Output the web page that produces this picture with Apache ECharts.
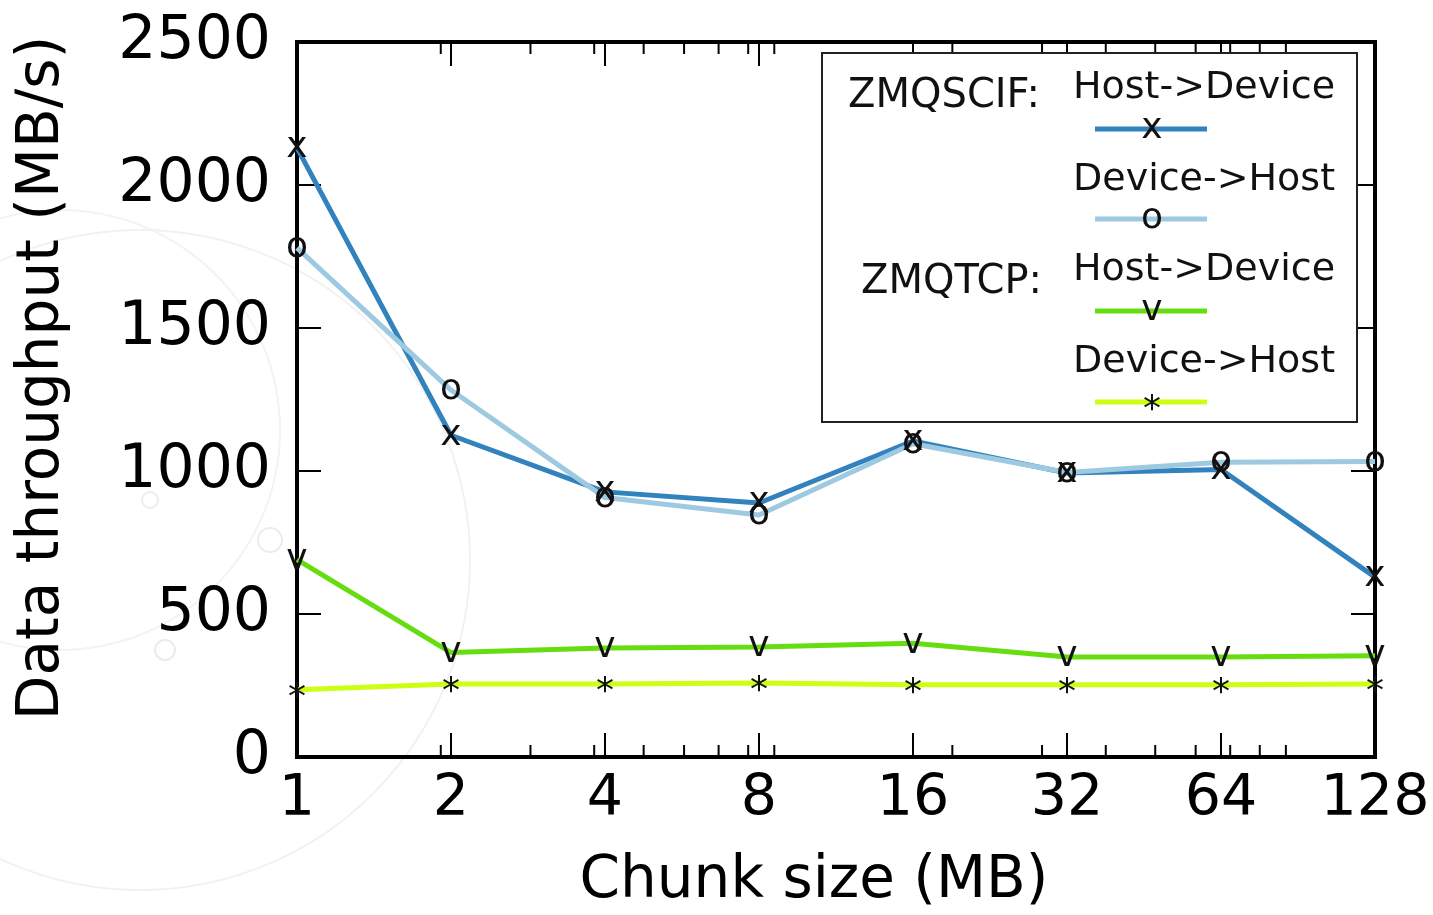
<!DOCTYPE html>
<html>
<head>
<meta charset="utf-8">
<script src="https://cdn.jsdelivr.net/npm/echarts@6/dist/echarts.min.js"></script>
<style>html,body{margin:0;padding:0;background:#fff;}#c{width:1433px;height:915px;}</style>
</head>
<body>
<div id="c"></div>
<script>
// ---- data ----
var chunkSizes = [1, 2, 4, 8, 16, 32, 64, 128];
var scifHostToDevice = [2130, 1125, 927, 888, 1105, 993, 1005, 629];
var scifDeviceToHost = [1780, 1283, 907, 846, 1095, 995, 1031, 1033];
var tcpHostToDevice = [690, 365, 381, 385, 398, 350, 350, 354];
var tcpDeviceToHost = [235, 255, 255, 259, 253, 253, 253, 255];
var yTicks = [0, 500, 1000, 1500, 2000, 2500];
var xMajorTicks = [2, 4, 8, 16, 32, 64];
var xMinorTicks = [1.91, 2.86, 3.81, 4.76, 5.71, 6.67, 7.62, 8.57, 19.1, 28.6, 38.1, 47.6, 57.1, 66.7, 76.2, 85.7];

var FONT = 'DejaVu Sans';
var MARK = 36;
var chart = echarts.init(document.getElementById('c'), null, {renderer: 'canvas'});

function pairs(vals) { return chunkSizes.map(function (x, i) { return [x, vals[i]]; }); }

function lineSeries(name, vals, color, ch, dy) {
  return {
    name: name, type: 'line', xAxisIndex: 0, yAxisIndex: 0,
    data: pairs(vals),
    symbol: 'circle', symbolSize: 1,
    itemStyle: {color: 'rgba(0,0,0,0)'},
    lineStyle: {color: color, width: 5},
    label: {
      show: true, position: 'inside', formatter: ch,
      color: '#111', fontFamily: FONT, fontSize: MARK,
      align: 'center', verticalAlign: 'middle', offset: [0, dy]
    },
    z: 3, animation: false
  };
}

var option = {
  backgroundColor: '#fff',
  animation: false,
  grid: {left: 297, top: 42, right: 58, bottom: 158, show: true, borderColor: '#000', borderWidth: 4, backgroundColor: 'transparent'},
  xAxis: [
    {
      type: 'log', logBase: 2, min: 1, max: 128, interval: 1, position: 'bottom',
      axisLine: {show: true, lineStyle: {color: '#000', width: 4}},
      axisTick: {show: true, inside: true, length: 24, lineStyle: {color: '#000', width: 2}},
      splitLine: {show: false},
      axisLabel: {
        show: true, color: '#000', fontFamily: FONT, fontSize: 57, margin: 15,
        formatter: function (v) { return String(Math.round(v)); }
      }
    }
  ],
  yAxis: [
    {
      type: 'value', min: 0, max: 2500, interval: 500, position: 'left',
      axisLine: {show: true, lineStyle: {color: '#000', width: 4}},
      axisTick: {show: true, inside: true, length: 24, lineStyle: {color: '#000', width: 2}},
      splitLine: {show: false},
      axisLabel: {
        show: true, color: '#000', fontFamily: FONT, fontSize: 60, margin: 26,
        formatter: function (v) { return yTicks.indexOf(v) >= 0 ? String(v) : ''; }
      }
    },
    {
      type: 'value', min: 0, max: 2500, interval: 500, position: 'right',
      axisLine: {show: true, lineStyle: {color: '#000', width: 4}},
      axisTick: {show: true, inside: true, length: 24, lineStyle: {color: '#000', width: 2}},
      splitLine: {show: false},
      axisLabel: {show: false}
    }
  ],
  series: [
    lineSeries('ZMQSCIF Host->Device', scifHostToDevice, '#3182bd', 'x', 0),
    lineSeries('ZMQSCIF Device->Host', scifDeviceToHost, '#9ecae1', 'o', 0),
    lineSeries('ZMQTCP Host->Device', tcpHostToDevice, '#66dd0f', 'v', 0),
    lineSeries('ZMQTCP Device->Host', tcpDeviceToHost, '#ccff11', '*', 9),
    {
      type: 'custom', xAxisIndex: 0, yAxisIndex: 0, silent: true, z: 5,
      data: xMinorTicks.map(function (v) { return [v, 0]; }),
      encode: {x: 0, y: 1},
      renderItem: function (params, api) {
        var v = api.value(0);
        var b = api.coord([v, 0]);
        var t = api.coord([v, 2500]);
        var st = {stroke: '#000', lineWidth: 2};
        return {type: 'group', children: [
          {type: 'line', shape: {x1: b[0], y1: b[1], x2: b[0], y2: b[1] - 12}, style: st},
          {type: 'line', shape: {x1: t[0], y1: t[1], x2: t[0], y2: t[1] + 12}, style: st}
        ]};
      }
    },
    {
      type: 'custom', xAxisIndex: 0, yAxisIndex: 0, silent: true, z: 5,
      data: xMajorTicks.map(function (v) { return [v, 0]; }),
      encode: {x: 0, y: 1},
      renderItem: function (params, api) {
        var v = api.value(0);
        var t = api.coord([v, 2500]);
        return {type: 'line', shape: {x1: t[0], y1: t[1], x2: t[0], y2: t[1] + 24}, style: {stroke: '#000', lineWidth: 2}};
      }
    }
  ],
  graphic: [
    // faint background watermark
    {type: 'circle', shape: {cx: 140, cy: 560, r: 330}, style: {fill: 'none', stroke: '#f1f1f1', lineWidth: 2}, z: -10, silent: true},
    {type: 'circle', shape: {cx: 60, cy: 430, r: 220}, style: {fill: 'none', stroke: '#f3f3f3', lineWidth: 2}, z: -10, silent: true},
    {type: 'circle', shape: {cx: 150, cy: 500, r: 8}, style: {fill: 'none', stroke: '#ececec', lineWidth: 2}, z: -10, silent: true},
    {type: 'circle', shape: {cx: 270, cy: 540, r: 12}, style: {fill: 'none', stroke: '#ececec', lineWidth: 2}, z: -10, silent: true},
    {type: 'circle', shape: {cx: 165, cy: 650, r: 10}, style: {fill: 'none', stroke: '#ececec', lineWidth: 2}, z: -10, silent: true},
    // axis titles
    {type: 'text', x: 814, y: 882, style: {text: 'Chunk size (MB)', fontFamily: FONT, fontSize: 58, fill: '#000', align: 'center', verticalAlign: 'middle'}},
    {type: 'text', x: 43, y: 378, rotation: Math.PI / 2, style: {text: 'Data throughput (MB/s)', fontFamily: FONT, fontSize: 58, fill: '#000', align: 'center', verticalAlign: 'middle'}},
    // legend box
    {type: 'rect', shape: {x: 822, y: 53, width: 535, height: 369}, style: {fill: '#fff', stroke: '#222', lineWidth: 2}, z: 10},
    {type: 'text', x: 1040, y: 97, z: 11, style: {text: 'ZMQSCIF:', fontFamily: FONT, fontSize: 40, fill: '#111', align: 'right', verticalAlign: 'middle'}},
    {type: 'text', x: 1042, y: 283, z: 11, style: {text: 'ZMQTCP:', fontFamily: FONT, fontSize: 40, fill: '#111', align: 'right', verticalAlign: 'middle'}},
    {type: 'text', x: 1073, y: 88, z: 11, style: {text: 'Host->Device', fontFamily: FONT, fontSize: 38, fill: '#111', align: 'left', verticalAlign: 'middle'}},
    {type: 'text', x: 1073, y: 180, z: 11, style: {text: 'Device->Host', fontFamily: FONT, fontSize: 38, fill: '#111', align: 'left', verticalAlign: 'middle'}},
    {type: 'text', x: 1073, y: 270, z: 11, style: {text: 'Host->Device', fontFamily: FONT, fontSize: 38, fill: '#111', align: 'left', verticalAlign: 'middle'}},
    {type: 'text', x: 1073, y: 362, z: 11, style: {text: 'Device->Host', fontFamily: FONT, fontSize: 38, fill: '#111', align: 'left', verticalAlign: 'middle'}},
    {type: 'line', z: 11, shape: {x1: 1095, y1: 129, x2: 1207, y2: 129}, style: {stroke: '#3182bd', lineWidth: 5}},
    {type: 'line', z: 11, shape: {x1: 1095, y1: 219, x2: 1207, y2: 219}, style: {stroke: '#9ecae1', lineWidth: 5}},
    {type: 'line', z: 11, shape: {x1: 1095, y1: 311, x2: 1207, y2: 311}, style: {stroke: '#66dd0f', lineWidth: 5}},
    {type: 'line', z: 11, shape: {x1: 1095, y1: 402, x2: 1207, y2: 402}, style: {stroke: '#ccff11', lineWidth: 5}},
    {type: 'text', x: 1152, y: 129, z: 12, style: {text: 'x', fontFamily: FONT, fontSize: MARK, fill: '#111', align: 'center', verticalAlign: 'middle'}},
    {type: 'text', x: 1152, y: 219, z: 12, style: {text: 'o', fontFamily: FONT, fontSize: MARK, fill: '#111', align: 'center', verticalAlign: 'middle'}},
    {type: 'text', x: 1152, y: 311, z: 12, style: {text: 'v', fontFamily: FONT, fontSize: MARK, fill: '#111', align: 'center', verticalAlign: 'middle'}},
    {type: 'text', x: 1152, y: 411, z: 12, style: {text: '*', fontFamily: FONT, fontSize: MARK, fill: '#111', align: 'center', verticalAlign: 'middle'}}
  ]
};
chart.setOption(option);
</script>
</body>
</html>
